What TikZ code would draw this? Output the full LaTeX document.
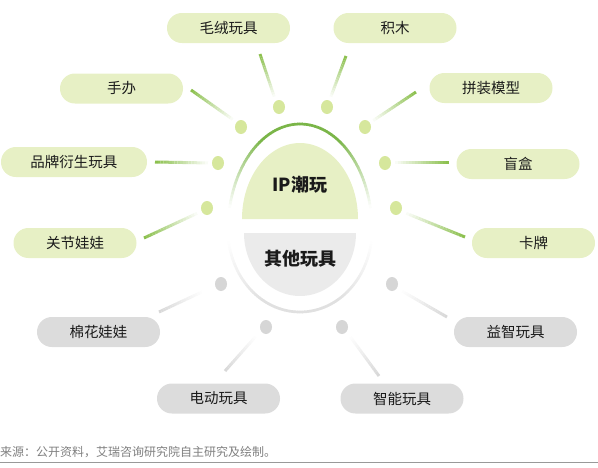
\documentclass[tikz,border=0pt]{standalone}
\usepackage{fontspec}
\setmainfont{Noto Sans CJK SC}
\usetikzlibrary{calc,shapes.geometric}
\definecolor{pillg}{HTML}{E7F0C5}
\definecolor{pillgr}{HTML}{DCDCDC}
\definecolor{dotg}{HTML}{D6E79C}
\definecolor{dotgr}{HTML}{D6D6D6}
\definecolor{lineg}{HTML}{8CC04E}
\definecolor{linegr}{HTML}{D8D8D8}
\definecolor{arcg}{HTML}{7AB548}
\definecolor{arcgr}{HTML}{E0E0E0}
\definecolor{ipfill}{HTML}{E7F0C5}
\definecolor{otfill}{HTML}{EBEBEB}
\definecolor{txt}{HTML}{1A1A1A}
\definecolor{foot}{HTML}{7F7F7F}
\newcommand\gradline[4]{%
  \foreach \i in {0,...,19}{%
    \pgfmathsetmacro\ta{\i/20}%
    \pgfmathsetmacro\tb{(\i+1)/20}%
    \pgfmathsetmacro\pp{100-100*\i/19}%
    \draw[line width=3pt, color=#3!\pp!#4] ($(#1)!\ta!(#2)$) -- ($(#1)!\tb!(#2)$);
  }}
\tikzset{
  pill/.style={rectangle, rounded corners=14.9pt, minimum width=123pt, minimum height=30pt,
    inner sep=0pt, font=\fontsize{14.5}{16}\selectfont, text=txt},
  pillgreen/.style={pill, fill=pillg},
  pillgray/.style={pill, fill=pillgr},
  spot/.style={ellipse, minimum width=12pt, minimum height=14pt, inner sep=0pt},
  spotgreen/.style={spot, fill=dotg},
  spotgray/.style={spot, fill=dotgr},
  centertext/.style={font=\fontsize{18}{20}\selectfont\bfseries, text=txt}
}
\begin{document}
\begin{tikzpicture}[x=1pt,y=-1pt]
\useasboundingbox (0,0) rectangle (598,467);

% outer arcs
\foreach \t in {8,10,...,170}{%
  \pgfmathsetmacro\d{90-abs(90-(\t+1))}%
  \pgfmathsetmacro\pp{min(100,max(0,(\d-12)*2.2))}%
  \draw[line width=2.7pt, color=arcg!\pp!white]
    ({300+72*cos(\t)},{230-106*sin(\t)}) -- ({300+72*cos(\t+2.3)},{230-106*sin(\t+2.3)});
}
\foreach \t in {8,10,...,170}{%
  \pgfmathsetmacro\d{90-abs(90-(\t+1))}%
  \pgfmathsetmacro\pp{min(100,max(0,(\d-8)*2.0))}%
  \draw[line width=2.7pt, color=arcgr!\pp!white]
    ({300+72*cos(\t)},{230+82*sin(\t)}) -- ({300+72*cos(\t+2.3)},{230+82*sin(\t+2.3)});
}

% inner shapes
\fill[ipfill] plot[domain=0:180, samples=80] ({300+58*cos(\x)},{219-76*sin(\x)}) -- cycle;
\fill[otfill] plot[domain=0:180, samples=80] ({300+56*cos(\x)},{233+63*sin(\x)}) -- cycle;
\node[centertext] (ip) at (300,185) {IP潮玩};
\node[centertext] (qt) at (300,259) {其他玩具};

% pills
\node[pillgreen] (p1) at (228.5,28) {毛绒玩具};
\node[pillgreen] (p2) at (121.5,88.5) {手办};
\node[pillgreen] (p3) at (395,28) {积木};
\node[pillgreen] (p4) at (491,88) {拼装模型};
\node[pillgreen, minimum width=146pt] (p5) at (74,162) {品牌衍生玩具};
\node[pillgreen] (p6) at (75,243) {关节娃娃};
\node[pillgreen] (p7) at (518,164) {盲盒};
\node[pillgreen] (p8) at (533.5,243) {卡牌};
\node[pillgray] (p9) at (98.5,332) {棉花娃娃};
\node[pillgray] (p10) at (515.5,332) {益智玩具};
\node[pillgray] (p11) at (218.5,398.5) {电动玩具};
\node[pillgray] (p12) at (402,398.5) {智能玩具};

% dots
\node[spotgreen] (d1) at (279,107) {};
\node[spotgreen] (d2) at (241,127) {};
\node[spotgreen] (d3) at (327,107) {};
\node[spotgreen] (d4) at (365,127) {};
\node[spotgreen] (d5) at (218,163) {};
\node[spotgreen] (d6) at (207,208) {};
\node[spotgreen] (d7) at (385,163) {};
\node[spotgreen] (d8) at (396,208) {};
\node[spotgray] (d9) at (221,284) {};
\node[spotgray] (d10) at (392,284) {};
\node[spotgray] (d11) at (266,327) {};
\node[spotgray] (d12) at (342,327) {};

% spoke ends
\coordinate (o1) at (260,54);   \coordinate (i1) at (275,99);
\coordinate (o2) at (191,90);   \coordinate (i2) at (235,121);
\coordinate (o3) at (346,56);   \coordinate (i3) at (330,99);
\coordinate (o4) at (416,92);   \coordinate (i4) at (371,122);
\coordinate (o5) at (155,162);  \coordinate (i5) at (211,163);
\coordinate (o6) at (144,238);  \coordinate (i6) at (200,212);
\coordinate (o7) at (449,162);  \coordinate (i7) at (392,162);
\coordinate (o8) at (465,237);  \coordinate (i8) at (403,212);
\coordinate (o9) at (159,312);  \coordinate (i9) at (204,291);
\coordinate (o10) at (447,317); \coordinate (i10) at (400,290);
\coordinate (o11) at (225,371); \coordinate (i11) at (257,335);
\coordinate (o12) at (379,376); \coordinate (i12) at (349,335);

\foreach \k in {1,...,8}{\gradline{o\k}{i\k}{lineg}{white}}
\foreach \k in {9,...,12}{\gradline{o\k}{i\k}{linegr}{white}}

% footer
\node[anchor=west, inner sep=0pt, text=foot, font=\fontsize{12}{13}\selectfont] (src) at (0,452)
  {来源：公开资料，艾瑞咨询研究院自主研究及绘制。};
\draw[line width=1.5pt, color=black!40] (0,462.5) -- (598,462.5);
\end{tikzpicture}
\end{document}
